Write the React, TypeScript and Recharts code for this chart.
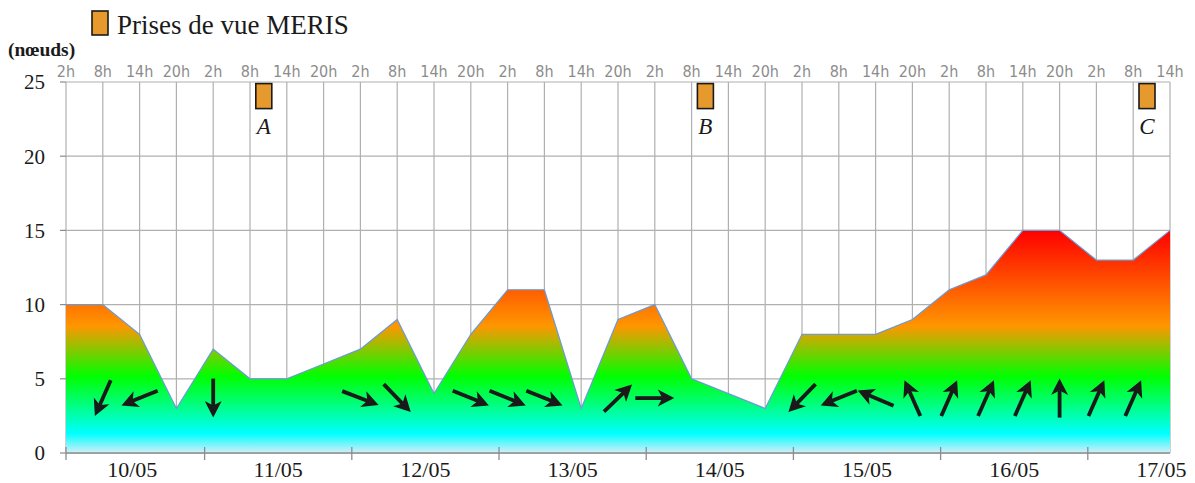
import React from 'react';
import { ComposedChart, Area, Scatter, XAxis, YAxis, CartesianGrid } from 'recharts';

// Observation times (hours counted from 10/05 00h)
const hours = [2, 8, 14, 20, 26, 32, 38, 44, 50, 56, 62, 68, 74, 80, 86, 92, 98, 104, 110, 116, 122, 128, 134, 140, 146, 152, 158, 164, 170, 176, 182];
// Wind speed (knots)
const windSpeed = [10, 10, 8, 3, 7, 5, 5, 6, 7, 9, 4, 8, 11, 11, 3, 9, 10, 5, 4, 3, 8, 8, 8, 9, 11, 12, 15, 15, 13, 13, 15];
const hourLabels = ['2h', '8h', '14h', '20h'];

const dayLabels = ['10/05', '11/05', '12/05', '13/05', '14/05', '15/05', '16/05', '17/05'];
const dayBoundaries = [2, 24.6, 48.6, 72.6, 96.6, 120.6, 144.6, 168.6];
const dayCentres = [12.8, 36.6, 60.6, 84.6, 108.6, 132.6, 156.6, 180.6];

const yTicks = [0, 5, 10, 15, 20, 25];

// Wind direction arrows (compass bearing the arrow points to)
const arrowHours = [8, 14, 26, 50, 56, 68, 74, 80, 92, 98, 122, 128, 134, 140, 146, 152, 158, 164, 170, 176];
const arrowBearings = [204, 248, 180, 111, 136, 112, 112, 112, 46, 90, 224, 248, 293, 336, 24, 24, 24, 0, 24, 24];
const arrowLevel = 3.7;

// MERIS acquisitions
const merisHours = [34.25, 106.25, 178.25];
const merisLabels = ['A', 'B', 'C'];
const merisLevel = 24.05;

const chartData = hours.map((t, i) => ({ t, v: windSpeed[i] }));
const arrowData = arrowHours.map((t, i) => ({ t, v: arrowLevel, dir: arrowBearings[i] }));
const merisData = merisHours.map((t, i) => ({ t, v: merisLevel, label: merisLabels[i] }));

const SERIF = "'Liberation Serif', 'Times New Roman', serif";
const NARROW = "'Liberation Sans Narrow', 'DejaVu Sans Condensed', 'Arial Narrow', sans-serif";
const ORANGE = '#E69A2E';
const INK = '#1a1a1a';
const GREY = '#8c8c8c';

const TopTick = (props: any) => {
  const { x, y, payload } = props;
  const idx = hours.indexOf(payload.value);
  const label = hourLabels[((idx % 4) + 4) % 4];
  return (
    <text x={x} y={y - 5} textAnchor="middle" fill={GREY} fontSize={16} fontFamily={NARROW} style={{ fontStretch: 'condensed' }}>
      {label}
    </text>
  );
};

const DayTick = (props: any) => {
  const { x, y, payload } = props;
  const v = payload.value;
  if (dayBoundaries.indexOf(v) >= 0) {
    return <line x1={x} x2={x} y1={y - 6} y2={y + 7} stroke={GREY} strokeWidth={1.3} />;
  }
  const ci = dayCentres.indexOf(v);
  return (
    <text x={x} y={y + 24} textAnchor="middle" fill={INK} fontSize={22} fontFamily={SERIF}>
      {dayLabels[ci]}
    </text>
  );
};

const ArrowShape = (props: any) => {
  const { cx, cy } = props;
  const dir = props.payload?.dir ?? props.dir ?? 0;
  if (cx == null || cy == null) return <g />;
  return (
    <g transform={`translate(${cx},${cy}) rotate(${dir})`}>
      <line x1={0} y1={19.5} x2={0} y2={-8} stroke={INK} strokeWidth={3.8} />
      <path d="M0,-19.5 L8.5,-3 L0,-7.5 L-8.5,-3 Z" fill={INK} />
    </g>
  );
};

const MerisShape = (props: any) => {
  const { cx, cy } = props;
  const label = props.payload?.label ?? props.label ?? '';
  if (cx == null || cy == null) return <g />;
  return (
    <g>
      <rect x={cx - 8} y={cy - 12.5} width={16} height={25} fill={ORANGE} stroke={INK} strokeWidth={1.6} />
      <text x={cx} y={cy + 38} textAnchor="middle" fill={INK} fontSize={23} fontStyle="italic" fontFamily={SERIF}>
        {label}
      </text>
    </g>
  );
};

export default function App() {
  return (
    <div style={{ position: 'absolute', left: 0, top: 0, width: 1195, height: 483, background: '#fff' }}>
      <ComposedChart width={1195} height={483} data={chartData} margin={{ top: 62, right: 25, left: 6, bottom: 0 }}>
        <defs>
          <linearGradient id="windGrad" x1="0" y1="0" x2="0" y2="1">
            <stop offset="0" stopColor="#FF0000" />
            <stop offset="0.43" stopColor="#FF9600" />
            <stop offset="0.655" stopColor="#00FF00" />
            <stop offset="0.913" stopColor="#00FFFF" />
            <stop offset="1" stopColor="#D4EEF8" />
          </linearGradient>
        </defs>
        <CartesianGrid xAxisId="top" stroke="#b0b0b0" strokeWidth={1.2} />
        <XAxis
          xAxisId="top"
          orientation="top"
          dataKey="t"
          type="number"
          domain={[2, 182]}
          ticks={hours}
          interval={0}
          height={20}
          tickSize={0}
          tickMargin={0}
          axisLine={false}
          tickLine={false}
          tick={<TopTick />}
        />
        <XAxis
          xAxisId="day"
          orientation="bottom"
          dataKey="t"
          type="number"
          domain={[2, 182]}
          ticks={[...dayBoundaries, ...dayCentres]}
          interval={0}
          height={30}
          tickSize={0}
          tickMargin={0}
          axisLine={{ stroke: GREY, strokeWidth: 1.3 }}
          tickLine={false}
          tick={<DayTick />}
        />
        <YAxis
          type="number"
          domain={[0, 25]}
          ticks={yTicks}
          interval={0}
          width={60}
          tickSize={6}
          tickMargin={15}
          axisLine={false}
          tickLine={{ stroke: GREY, strokeWidth: 1.2 }}
          tick={{ fill: INK, fontSize: 21, fontFamily: SERIF }}
        />
        <Area
          xAxisId="top"
          type="linear"
          dataKey="v"
          stroke="#6A9BD8"
          strokeWidth={1.2}
          fill="url(#windGrad)"
          fillOpacity={1}
          dot={false}
          activeDot={false}
          isAnimationActive={false}
        />
        <Scatter xAxisId="top" data={arrowData} dataKey="v" shape={<ArrowShape />} isAnimationActive={false} />
        <Scatter xAxisId="top" data={merisData} dataKey="v" shape={<MerisShape />} isAnimationActive={false} />
      </ComposedChart>
      <svg width={1195} height={483} style={{ position: 'absolute', left: 0, top: 0, pointerEvents: 'none' }}>
        <rect x={92} y={11} width={16} height={24} fill={ORANGE} stroke={INK} strokeWidth={1.6} />
        <text x={117} y={34} fontSize={27} fill={INK} fontFamily={SERIF}>Prises de vue MERIS</text>
        <text x={8} y={56} fontSize={19.5} fontWeight="bold" fill={INK} fontFamily={SERIF}>(nœuds)</text>
      </svg>
    </div>
  );
}
